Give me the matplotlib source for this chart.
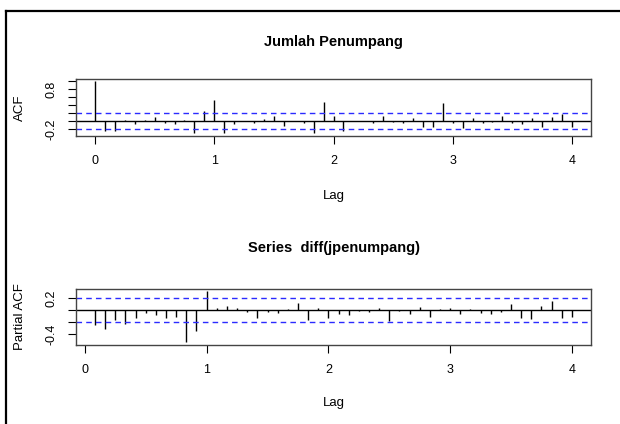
import numpy as np
import matplotlib.pyplot as plt
from matplotlib.lines import Line2D

# ACF of Jumlah Penumpang, lags 0..48 (monthly, shown as lag/12)
acf_vals = [1.00, -0.24, -0.24, 0.03, -0.07, 0.03, 0.10, -0.04, -0.07, 0.03,
            -0.30, 0.25, 0.53, -0.31, -0.07, 0.01, -0.06, 0.05, 0.13, -0.12,
            -0.01, -0.04, -0.29, 0.47, 0.12, -0.24, 0.01, -0.01, -0.06, 0.12,
            -0.03, -0.06, 0.07, -0.14, -0.14, 0.45, -0.06, -0.18, 0.07, -0.06,
            -0.03, 0.12, -0.05, -0.08, 0.07, -0.14, 0.09, 0.18, -0.14]
acf_ci = 0.205

# PACF of diff(jpenumpang), lags 1..48
pacf_vals = [-0.25, -0.32, -0.165, -0.24, -0.14, -0.045, -0.09, -0.14, -0.125, -0.54,
             -0.35, 0.32, 0.03, 0.066, 0.03, -0.04, -0.14, -0.04, -0.055, 0.01,
             0.12, -0.165, 0.03, -0.14, -0.07, -0.08, -0.02, -0.03, 0.03, -0.18,
             -0.02, -0.06, 0.055, -0.12, 0.01, 0.03, -0.06, 0.01, -0.05, -0.06,
             -0.04, 0.09, -0.14, -0.15, 0.07, 0.14, -0.14, -0.11]
pacf_ci = 0.203

acf_lags = np.arange(len(acf_vals)) / 12
pacf_lags = np.arange(1, len(pacf_vals) + 1) / 12

plt.rcParams['font.family'] = ['Liberation Sans', 'DejaVu Sans']

W, H = 620, 424
fig = plt.figure(figsize=(W / 100, H / 100), dpi=100)


def px_axes(left, top, right, bottom):
    return [left / W, 1 - bottom / H, (right - left) / W, (bottom - top) / H]


def style(ax):
    for s in ax.spines.values():
        s.set_color('#444444')
        s.set_linewidth(1.0)
    ax.tick_params(length=6, width=0.8, color='black', labelsize=9, pad=8)
    ax.tick_params(axis='y', pad=7)
    ax.set_xticks([0, 1, 2, 3, 4])
    ax.axhline(0, color='black', lw=1)


# top panel: ACF
ax1 = fig.add_axes(px_axes(76, 79, 591, 136))
ax1.vlines(acf_lags, 0, acf_vals, color='black', lw=1)
for c in (acf_ci, -acf_ci):
    ax1.axhline(c, color='#2b2bff', lw=1, ls=(0, (4, 3)))
ax1.set_xlim(-0.16, 4.16)
ax1.set_ylim(-0.375, 1.05)
style(ax1)
ax1.set_yticks([-0.2, 0.0, 0.2, 0.4, 0.6, 0.8, 1.0])
ax1.set_yticklabels(['-0.2', '', '', '', '', '0.8', ''], rotation=90, va='center')
ax1.set_ylabel('ACF', fontsize=9.5)
ax1.yaxis.set_label_coords(-0.098, 0.5)
ax1.set_xlabel('Lag', fontsize=9.5)
ax1.xaxis.set_label_coords(0.5, -0.95)
fig.text(0.5 * (76 + 591) / W, 1 - 42 / H, 'Jumlah Penumpang',
         ha='center', va='center', fontsize=10.5, fontweight='bold')

# bottom panel: PACF
ax2 = fig.add_axes(px_axes(76, 289, 591, 345))
ax2.vlines(pacf_lags, 0, pacf_vals, color='black', lw=1)
for c in (pacf_ci, -pacf_ci):
    ax2.axhline(c, color='#2b2bff', lw=1, ls=(0, (4, 3)))
ax2.set_xlim(-0.073, 4.157)
ax2.set_ylim(-0.583, 0.347)
style(ax2)
ax2.set_yticks([-0.4, -0.2, 0.0, 0.2])
ax2.set_yticklabels(['-0.4', '', '', '0.2'], rotation=90, va='center')
ax2.set_ylabel('Partial ACF', fontsize=9.5)
ax2.yaxis.set_label_coords(-0.098, 0.5)
ax2.set_xlabel('Lag', fontsize=9.5)
ax2.xaxis.set_label_coords(0.5, -0.93)
fig.text(0.5 * (76 + 591) / W, 1 - 248 / H, 'Series  diff(jpenumpang)',
         ha='center', va='center', fontsize=10.5, fontweight='bold')

# outer frame (top and left edges of the screenshot border)
fig.add_artist(Line2D([6 / W, 6 / W], [0, 1 - 10.5 / H], color='black', lw=1.6,
                      transform=fig.transFigure))
fig.add_artist(Line2D([6 / W, 1], [1 - 10.5 / H, 1 - 10.5 / H], color='black', lw=1.6,
                      transform=fig.transFigure))

fig.savefig('out.png', dpi=100)
